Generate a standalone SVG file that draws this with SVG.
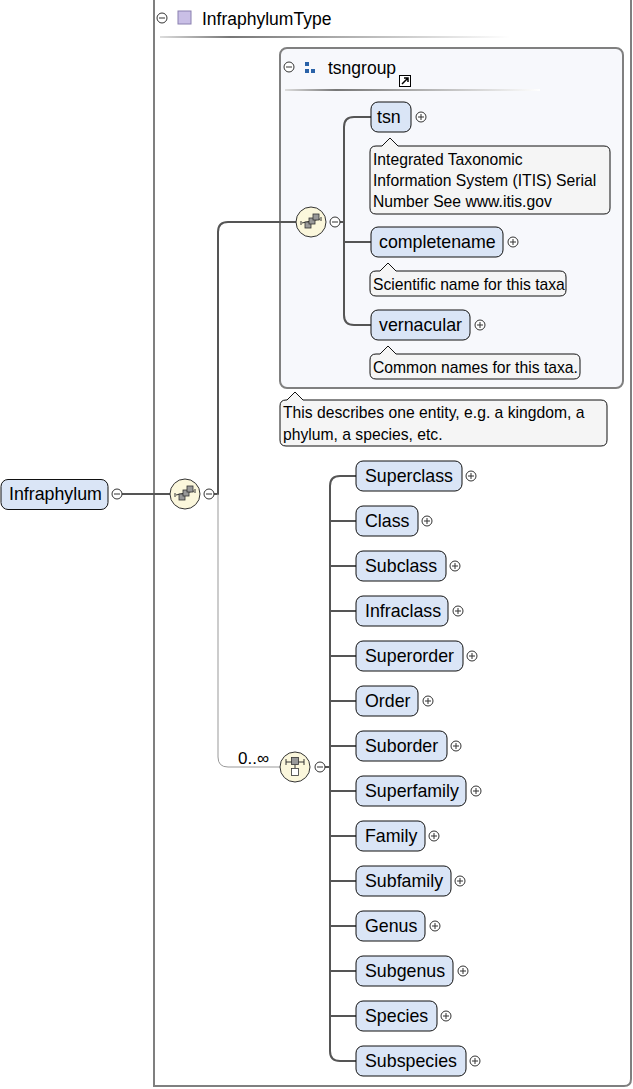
<svg xmlns="http://www.w3.org/2000/svg" width="633" height="1089" viewBox="0 0 633 1089">
<defs>
<style>
text{font-family:"Liberation Sans",Arial,sans-serif;fill:#000}
.el rect{fill:#dae5f6;stroke:#111;stroke-width:1}
.el text{font-size:17.8px}
.doc path{fill:#f5f5f5;stroke:#111;stroke-width:1}
.doc text{font-size:15.7px}
.pm circle{fill:#fff;stroke:#333;stroke-width:1}
.pm line{stroke:#333;stroke-width:1}
.conn{fill:none;stroke:#555;stroke-width:2}
.thin{fill:none;stroke:#999;stroke-width:1}
.hdr{font-size:17.5px}
</style>
<linearGradient id="sep" x1="0" x2="1" y1="0" y2="0">
<stop offset="0" stop-color="#ddd"/>
<stop offset="0.2" stop-color="#777"/>
<stop offset="1" stop-color="#fff"/>
</linearGradient>
<symbol id="plus" viewBox="-6 -6 12 12" overflow="visible">
<g class="pm"><circle r="5"/><line x1="-3" y1="0" x2="3" y2="0"/><line x1="0" y1="-3" x2="0" y2="3"/></g>
</symbol>
<symbol id="minus" viewBox="-6 -6 12 12" overflow="visible">
<g class="pm"><circle r="5"/><line x1="-3" y1="0" x2="3" y2="0"/></g>
</symbol>
<g id="seqicon">
<circle r="15" fill="#fbf7dc" stroke="#333" stroke-width="1"/>
<line x1="-9" y1="1" x2="9" y2="-3" stroke="#333" stroke-width="1"/>
<rect x="-6" y="0" width="6" height="6" fill="#999" stroke="#333" stroke-width="0.8"/>
<rect x="-2" y="-4" width="6" height="6" fill="#999" stroke="#333" stroke-width="0.8"/>
<rect x="2" y="-8" width="6" height="6" fill="#999" stroke="#333" stroke-width="0.8"/>
<line x1="-10" y1="-1" x2="-10" y2="3" stroke="#333"/>
<line x1="10" y1="-5" x2="10" y2="-1" stroke="#333"/>
</g>
</defs>
<rect width="633" height="1089" fill="#fff"/>

<!-- outer complex type box -->
<g id="InfraphylumType">
<path d="M154 -2 V1086 H624 Q631 1086 631 1079 V-2" fill="none" stroke="#7f7f7f" stroke-width="2"/>
<use href="#minus" x="162" y="18" width="12" height="12" transform="translate(-6 -6)"/>
<rect x="178" y="11" width="13" height="13" fill="#c9bfe6" stroke="#8a80b0" stroke-width="1"/>
<text class="hdr" x="202" y="25">InfraphylumType</text>
<rect x="160" y="36" width="350" height="2" fill="url(#sep)"/>
</g>

<!-- tsngroup box -->
<g id="tsngroup">
<rect x="280" y="48" width="343" height="340" rx="7" fill="#f7f8fc" stroke="#808080" stroke-width="2"/>
<use href="#minus" x="289" y="67" width="12" height="12" transform="translate(-6 -6)"/>
<rect x="305" y="62" width="4" height="4" fill="#2a62a8"/>
<rect x="305" y="69" width="4" height="4" fill="#2a62a8"/>
<rect x="311" y="69" width="4" height="4" fill="#2a62a8"/>
<text class="hdr" x="328" y="74">tsngroup</text>
<rect x="399.5" y="75.5" width="11" height="11" fill="#fff" stroke="#000" stroke-width="1"/>
<path d="M402 84 L408 78 M404 78 H408 V82" stroke="#000" stroke-width="1.5" fill="none"/>
<rect x="285" y="89" width="255" height="2" fill="url(#sep)"/>
</g>

<!-- connectors -->
<g id="connectors">
<line class="conn" x1="122" y1="494" x2="170" y2="494"/>
<path class="conn" d="M214 494 H218 V232 Q218 222 228 222 H296"/>
<path class="thin" d="M218 494 V757 Q218 767 228 767 H280"/>
<path class="conn" d="M340 222 H344"/>
<path class="conn" d="M371 117 H354 Q344 117 344 127 V315 Q344 325 354 325 H371 M344 242 H371"/>
<path class="conn" d="M325 767 H330"/>
<path class="conn" d="M356 476 H340 Q330 476 330 486 V1051 Q330 1061 340 1061 H356 M330 521 H356 M330 566 H356 M330 611 H356 M330 656 H356 M330 701 H356 M330 746 H356 M330 791 H356 M330 836 H356 M330 881 H356 M330 926 H356 M330 971 H356 M330 1016 H356"/>
</g>

<!-- root element -->
<g id="Infraphylum" class="el">
<rect x="1" y="479.5" width="107" height="30" rx="7"/>
<text x="9" y="500">Infraphylum</text>
<use href="#minus" x="117" y="494" width="12" height="12" transform="translate(-6 -6)"/>
</g>

<!-- sequence compositors -->
<g id="seq1">
<use href="#seqicon" x="185" y="494"/>
<use href="#minus" x="209" y="494" width="12" height="12" transform="translate(-6 -6)"/>
</g>
<g id="seq2">
<use href="#seqicon" x="311" y="222"/>
<use href="#minus" x="335" y="222" width="12" height="12" transform="translate(-6 -6)"/>
</g>

<!-- choice compositor -->
<g id="choice">
<circle cx="295" cy="767" r="15" fill="#fbf7dc" stroke="#333" stroke-width="1"/>
<line x1="286" y1="762" x2="304" y2="762" stroke="#333" stroke-width="1"/>
<line x1="286" y1="759" x2="286" y2="765" stroke="#333"/>
<line x1="304" y1="759" x2="304" y2="765" stroke="#333"/>
<rect x="291.5" y="757.5" width="7" height="7" fill="#999" stroke="#333" stroke-width="0.8"/>
<line x1="295" y1="765" x2="295" y2="768" stroke="#333"/>
<rect x="291.5" y="768.5" width="7" height="7" fill="#fff" stroke="#333" stroke-width="0.8"/>
<use href="#minus" x="320" y="767" width="12" height="12" transform="translate(-6 -6)"/>
<text x="238" y="764" font-size="17px">0..∞</text>
</g>

<!-- tsngroup elements -->
<g id="tsn" class="el">
<rect x="371" y="102" width="40" height="30" rx="7"/>
<text x="377" y="123">tsn</text>
<use href="#plus" x="421" y="117" width="12" height="12" transform="translate(-6 -6)"/>
</g>
<g id="tsn-doc" class="doc">
<path d="M376 146 H382 L390 138 L398 146 H604 Q610 146 610 152 V208 Q610 214 604 214 H376 Q370 214 370 208 V152 Q370 146 376 146 Z"/>
<text x="373" y="165">Integrated Taxonomic</text>
<text x="373" y="186">Information System (ITIS) Serial</text>
<text x="373" y="207">Number See www.itis.gov</text>
</g>

<g id="completename" class="el">
<rect x="371" y="227" width="132" height="30" rx="7"/>
<text x="379" y="248">completename</text>
<use href="#plus" x="513" y="242" width="12" height="12" transform="translate(-6 -6)"/>
</g>
<g id="completename-doc" class="doc">
<path d="M376 271 H380 L388 263 L396 271 H560 Q566 271 566 277 V290 Q566 296 560 296 H376 Q370 296 370 290 V277 Q370 271 376 271 Z"/>
<text x="373" y="290">Scientific name for this taxa</text>
</g>

<g id="vernacular" class="el">
<rect x="371" y="310" width="99" height="30" rx="7"/>
<text x="379" y="331">vernacular</text>
<use href="#plus" x="480" y="325" width="12" height="12" transform="translate(-6 -6)"/>
</g>
<g id="vernacular-doc" class="doc">
<path d="M376 354 H380 L388 346 L396 354 H574 Q580 354 580 360 V373 Q580 379 574 379 H376 Q370 379 370 373 V360 Q370 354 376 354 Z"/>
<text x="373" y="373">Common names for this taxa.</text>
</g>

<g id="group-doc" class="doc">
<path d="M286 400 H287 L295 392 L303 400 H601 Q607 400 607 406 V440 Q607 446 601 446 H286 Q280 446 280 440 V406 Q280 400 286 400 Z"/>
<text x="283" y="418">This describes one entity, e.g. a kingdom, a</text>
<text x="283" y="440">phylum, a species, etc.</text>
</g>

<!-- choice elements -->
<g id="Superclass" class="el"><rect x="356" y="461" width="106" height="30" rx="7"/><text x="365" y="482">Superclass</text><use href="#plus" x="471" y="476" width="12" height="12" transform="translate(-6 -6)"/></g>
<g id="Class" class="el"><rect x="356" y="506" width="62" height="30" rx="7"/><text x="365" y="527">Class</text><use href="#plus" x="427" y="521" width="12" height="12" transform="translate(-6 -6)"/></g>
<g id="Subclass" class="el"><rect x="356" y="551" width="90" height="30" rx="7"/><text x="365" y="572">Subclass</text><use href="#plus" x="455" y="566" width="12" height="12" transform="translate(-6 -6)"/></g>
<g id="Infraclass" class="el"><rect x="356" y="596" width="92" height="30" rx="7"/><text x="365" y="617">Infraclass</text><use href="#plus" x="458" y="611" width="12" height="12" transform="translate(-6 -6)"/></g>
<g id="Superorder" class="el"><rect x="356" y="641" width="107" height="30" rx="7"/><text x="365" y="662">Superorder</text><use href="#plus" x="472" y="656" width="12" height="12" transform="translate(-6 -6)"/></g>
<g id="Order" class="el"><rect x="356" y="686" width="62" height="30" rx="7"/><text x="365" y="707">Order</text><use href="#plus" x="428" y="701" width="12" height="12" transform="translate(-6 -6)"/></g>
<g id="Suborder" class="el"><rect x="356" y="731" width="91" height="30" rx="7"/><text x="365" y="752">Suborder</text><use href="#plus" x="456" y="746" width="12" height="12" transform="translate(-6 -6)"/></g>
<g id="Superfamily" class="el"><rect x="356" y="776" width="110" height="30" rx="7"/><text x="365" y="797">Superfamily</text><use href="#plus" x="476" y="791" width="12" height="12" transform="translate(-6 -6)"/></g>
<g id="Family" class="el"><rect x="356" y="821" width="69" height="30" rx="7"/><text x="365" y="842">Family</text><use href="#plus" x="434" y="836" width="12" height="12" transform="translate(-6 -6)"/></g>
<g id="Subfamily" class="el"><rect x="356" y="866" width="95" height="30" rx="7"/><text x="365" y="887">Subfamily</text><use href="#plus" x="460" y="881" width="12" height="12" transform="translate(-6 -6)"/></g>
<g id="Genus" class="el"><rect x="356" y="911" width="69" height="30" rx="7"/><text x="365" y="932">Genus</text><use href="#plus" x="435" y="926" width="12" height="12" transform="translate(-6 -6)"/></g>
<g id="Subgenus" class="el"><rect x="356" y="956" width="97" height="30" rx="7"/><text x="365" y="977">Subgenus</text><use href="#plus" x="463" y="971" width="12" height="12" transform="translate(-6 -6)"/></g>
<g id="Species" class="el"><rect x="356" y="1001" width="81" height="30" rx="7"/><text x="365" y="1022">Species</text><use href="#plus" x="446" y="1016" width="12" height="12" transform="translate(-6 -6)"/></g>
<g id="Subspecies" class="el"><rect x="356" y="1046" width="110" height="30" rx="7"/><text x="365" y="1067">Subspecies</text><use href="#plus" x="475" y="1061" width="12" height="12" transform="translate(-6 -6)"/></g>
</svg>
